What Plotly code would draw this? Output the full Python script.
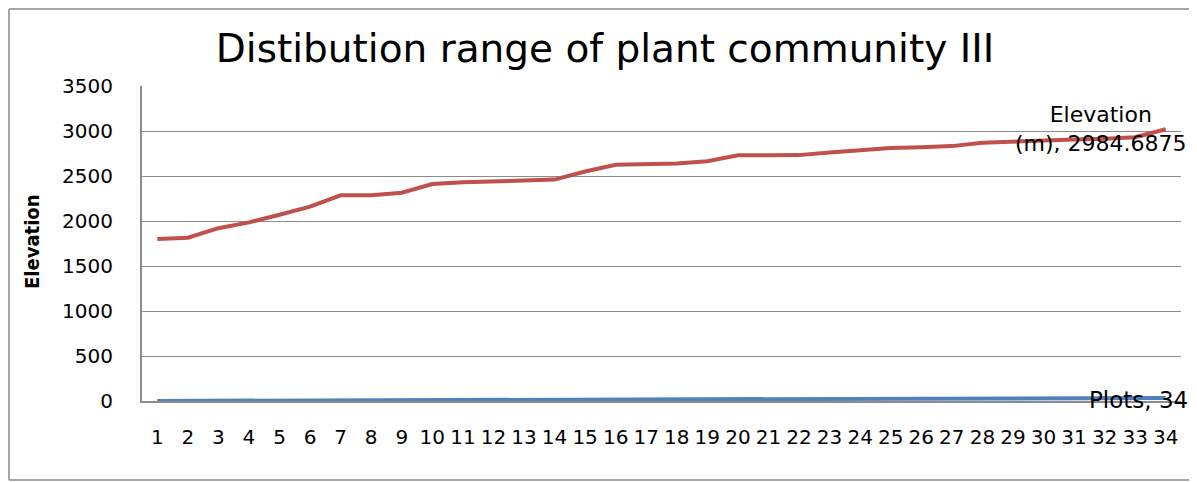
import plotly.graph_objects as go

plots = list(range(1, 35))
elevation = [1800, 1815, 1920, 1985, 2070, 2160, 2285, 2285, 2315, 2410,
             2430, 2445, 2450, 2460, 2550, 2625, 2630, 2638, 2665, 2730,
             2730, 2732, 2762, 2790, 2810, 2820, 2832, 2870, 2885, 2895,
             2905, 2915, 2930, 3020]
plot_numbers = list(range(1, 35))
y_ticks = [0, 500, 1000, 1500, 2000, 2500, 3000, 3500]
title_text = "Distibution range of plant community III"
elev_label = "Elevation<br>(m), 2984.6875"
plots_label = "Plots, 34"

# page body has an 8px margin, so the figure starts at (8, 8) of the window
OFF = 8
W, H = 1197 - OFF, 482 - OFF
L = 142 - OFF
T = 86 - OFF
R = W - (1181 - OFF)
B = H - (401 - OFF)
pw = W - L - R
ph = H - T - B

def px(x):
    return (x - OFF - L) / pw

def py(y):
    return (H - B - (y - OFF)) / ph

fig = go.Figure()
fig.add_trace(go.Scatter(x=plots, y=plot_numbers, mode="lines", name="Plots",
                         line=dict(color="#4F81BD", width=4)))
fig.add_trace(go.Scatter(x=plots, y=elevation, mode="lines", name="Elevation (m)",
                         line=dict(color="#C0504D", width=4)))

tick_font = dict(family="DejaVu Sans", size=20, color="#000000")

fig.update_layout(
    width=W, height=H,
    margin=dict(l=L, r=R, t=T, b=B, pad=0),
    paper_bgcolor="white", plot_bgcolor="white",
    showlegend=False,
    title=dict(text=title_text, x=(605 - OFF) / W, xanchor="center",
               y=1 - (48 - OFF) / H, yanchor="middle",
               font=dict(family="DejaVu Sans", size=39, color="#000000")),
    xaxis=dict(range=[0.5, 34.5], tickmode="array", tickvals=plots,
               ticktext=[str(p) for p in plots], tickangle=0,
               showgrid=False, zeroline=False,
               showline=True, linecolor="#8C8C8C", linewidth=2,
               ticks="", tickfont=tick_font, ticklabelstandoff=17),
    yaxis=dict(range=[0, 3500], tickmode="array", tickvals=y_ticks,
               ticktext=[str(v) for v in y_ticks],
               showgrid=True, gridcolor="#8C8C8C", gridwidth=1,
               zeroline=False, showline=True, linecolor="#8C8C8C", linewidth=2,
               ticks="", tickfont=tick_font, ticklabelstandoff=23),
)

fig.add_annotation(text="<b>Elevation</b>", textangle=-90, xref="paper", yref="paper",
                   x=px(32), y=py(242), xanchor="center", yanchor="middle",
                   showarrow=False,
                   font=dict(family="DejaVu Sans Condensed, Liberation Sans, sans-serif",
                             size=20, color="#000000"))

fig.add_annotation(text=elev_label, x=plots[-1], y=elevation[-1], xref="x", yref="y",
                   xshift=-65, yshift=0, xanchor="center", yanchor="middle",
                   align="center", showarrow=False,
                   font=dict(family="DejaVu Sans", size=22, color="#000000"))

fig.add_annotation(text=plots_label, x=plots[-1], y=plot_numbers[-1], xref="x", yref="y",
                   xshift=-27, yshift=-2, xanchor="center", yanchor="middle",
                   showarrow=False,
                   font=dict(family="DejaVu Sans", size=23, color="#000000"))

border = dict(color="#A6A6A6", width=2)
bx0, bx1, by0, by1 = px(9), px(1230), py(480), py(9)
fig.add_shape(type="line", xref="paper", yref="paper", x0=bx0, x1=bx1, y0=by1, y1=by1,
              line=border, layer="below")
fig.add_shape(type="line", xref="paper", yref="paper", x0=bx0, x1=bx1, y0=by0, y1=by0,
              line=border, layer="below")
fig.add_shape(type="line", xref="paper", yref="paper", x0=bx0, x1=bx0, y0=by0, y1=by1,
              line=border, layer="below")

fig.write_html("out.html")
